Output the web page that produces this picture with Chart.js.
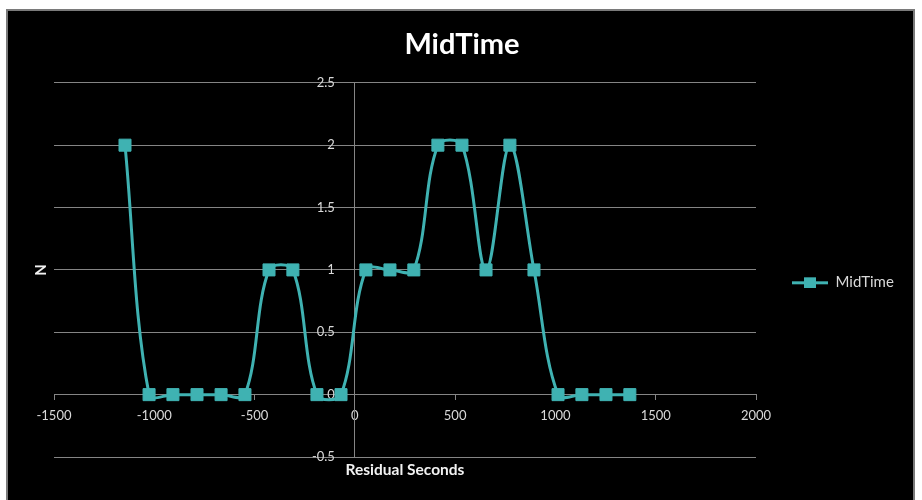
<!DOCTYPE html>
<html>
<head>
<meta charset="utf-8">
<title>MidTime</title>
<script src="https://cdn.jsdelivr.net/npm/chart.js@4.4.1/dist/chart.umd.min.js"></script>
<style>
    html, body { margin: 0; padding: 0; background: #ffffff; overflow: hidden; }
    .frame {
        position: absolute; left: 6px; top: 9px;
        width: 905px; height: 520px;
        background: #000000;
        border: 2px solid #7a7a7a;
    }
    #midTimeChart { position: absolute; left: 0; top: 0; }
</style>
</head>
<body>
<div class="frame"></div>
<canvas id="midTimeChart" width="922" height="500"></canvas>
<script>
// Тексты
const CHART_TITLE = 'MidTime';
const SERIES_LABEL = 'MidTime';
const X_TITLE = 'Residual Seconds';
const Y_TITLE = 'N';

// Данные: центр интервала (сек) и количество
const residualSeconds = [-1146, -1026, -907, -787, -667, -548, -428, -309, -189, -69,
                         55, 175, 294, 414, 534, 654, 773, 893, 1013, 1132, 1252, 1371];
const counts = [2, 0, 0, 0, 0, 0, 1, 1, 0, 0,
                1, 1, 1, 2, 2, 1, 2, 1, 0, 0, 0, 0];

// Оси
const X_MIN = -1500;
const X_MAX = 2000;
const X_STEP = 500;
const Y_MIN = -0.5;
const Y_MAX = 2.5;
const Y_STEP = 0.5;

const FONT = 'Lato, "DejaVu Sans", sans-serif';
const TEAL = '#3fb2b2';
const GRID = '#858585';
const TICK_TEXT = '#d9d9d9';
// отступ подписей оси Y от линии оси (ось стоит на x = 0)
const Y_LABEL_GAP = '      ';

Chart.defaults.font.family = FONT;

// Значок легенды: линия с квадратом
function makeLegendIcon() {
    const c = document.createElement('canvas');
    c.width = 36;
    c.height = 12;
    const g = c.getContext('2d');
    g.fillStyle = TEAL;
    g.fillRect(0, 5, 36, 3);
    g.fillRect(12, 1, 12, 11);
    return c;
}

const legendIcon = makeLegendIcon();

const ctx = document.getElementById('midTimeChart').getContext('2d');

new Chart(ctx, {
    type: 'scatter',
    data: {
        datasets: [{
            label: SERIES_LABEL,
            data: residualSeconds.map((x, i) => ({ x: x, y: counts[i] })),
            showLine: true,
            borderColor: TEAL,
            backgroundColor: TEAL,
            borderWidth: 3,
            tension: 0.35,
            pointStyle: 'rect',
            pointRadius: 8.5,
            pointHoverRadius: 8.5,
            pointBorderWidth: 1,
            pointBackgroundColor: TEAL,
            pointBorderColor: TEAL
        }]
    },
    options: {
        responsive: false,
        animation: false,
        layout: {
            padding: { left: 21, right: 19, top: 0, bottom: 0 }
        },
        plugins: {
            title: {
                display: true,
                text: CHART_TITLE,
                color: '#ffffff',
                font: { family: FONT, size: 29, weight: 'bold' },
                padding: { top: 27, bottom: 21 }
            },
            legend: {
                position: 'right',
                align: 'start',
                fullSize: false,
                title: {
                    display: true,
                    text: '',
                    font: { size: 10 },
                    padding: { top: 144, bottom: 0 }
                },
                labels: {
                    color: TICK_TEXT,
                    font: { family: FONT, size: 15 },
                    usePointStyle: true,
                    pointStyleWidth: 36,
                    padding: 36,
                    generateLabels: function(chart) {
                        const items = Chart.defaults.plugins.legend.labels.generateLabels(chart);
                        items.forEach(item => { item.pointStyle = legendIcon; });
                        return items;
                    }
                }
            },
            tooltip: { enabled: false }
        },
        scales: {
            x: {
                type: 'linear',
                position: { y: 0 },
                min: X_MIN,
                max: X_MAX,
                ticks: {
                    stepSize: X_STEP,
                    color: TICK_TEXT,
                    font: { size: 13 },
                    padding: 8,
                    callback: function(value) {
                        return String(value);
                    }
                },
                grid: {
                    drawOnChartArea: false,
                    drawTicks: true,
                    tickLength: 5,
                    tickColor: GRID
                },
                border: { color: GRID, width: 1 }
            },
            y: {
                type: 'linear',
                position: { x: 0 },
                min: Y_MIN,
                max: Y_MAX,
                ticks: {
                    stepSize: Y_STEP,
                    color: TICK_TEXT,
                    font: { size: 13 },
                    callback: function(value) {
                        return String(Number(value.toFixed(1))) + Y_LABEL_GAP;
                    }
                },
                grid: {
                    color: GRID,
                    lineWidth: 1,
                    tickLength: 5,
                    tickColor: GRID
                },
                border: { color: GRID, width: 1 }
            },
            xTitle: {
                axis: 'x',
                type: 'linear',
                position: 'bottom',
                ticks: { display: false },
                grid: { display: false, drawTicks: false },
                border: { display: false },
                title: {
                    display: true,
                    text: X_TITLE,
                    color: '#f2f2f2',
                    font: { family: FONT, size: 15.5, weight: 'bold' },
                    padding: { top: 3.7, bottom: 20.7 }
                }
            },
            yTitle: {
                axis: 'y',
                type: 'linear',
                position: 'left',
                ticks: { display: false },
                grid: { display: false, drawTicks: false },
                border: { display: false },
                title: {
                    display: true,
                    text: Y_TITLE,
                    color: '#f2f2f2',
                    font: { family: FONT, size: 15, weight: 'bold' },
                    padding: { top: 11, bottom: 4 }
                }
            }
        }
    }
});
</script>
</body>
</html>
